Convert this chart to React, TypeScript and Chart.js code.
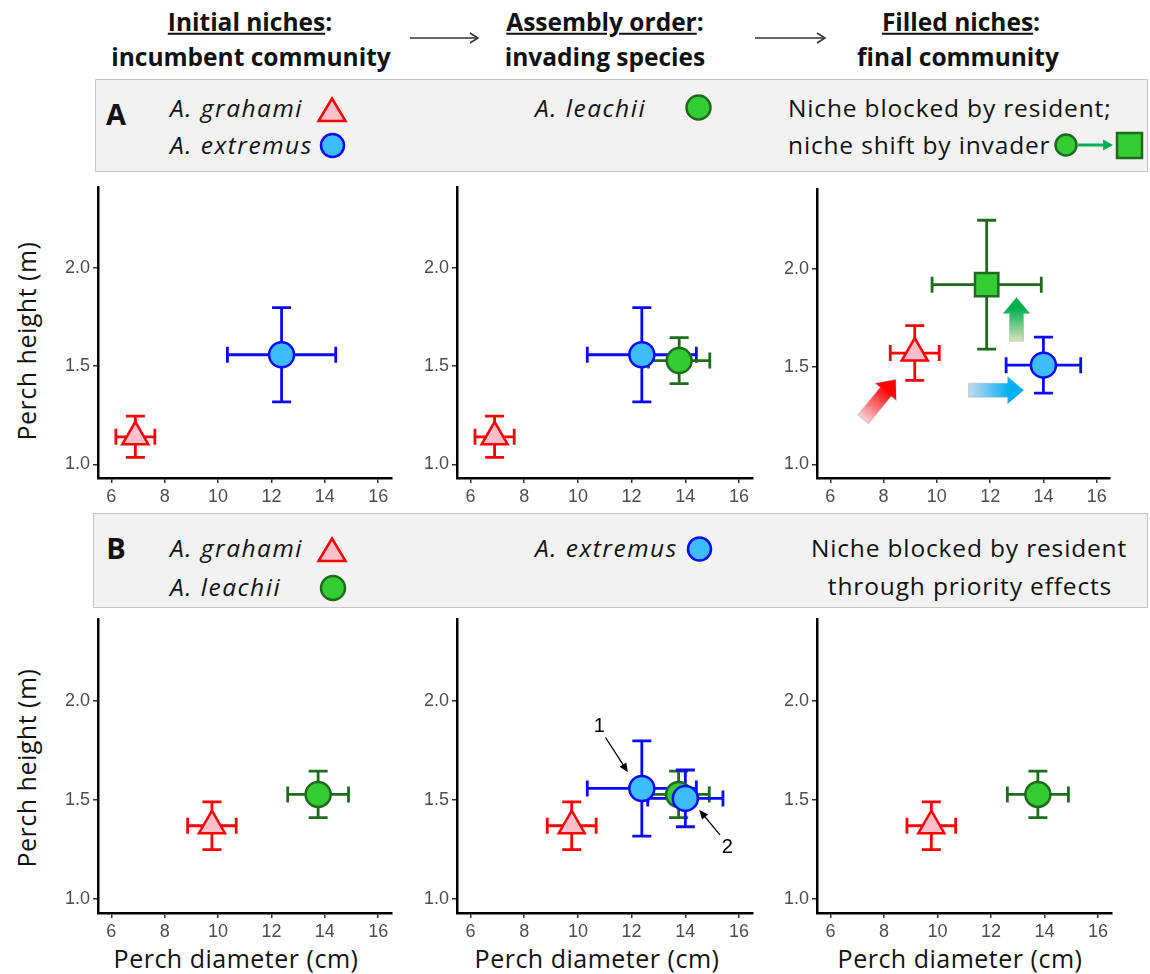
import React, { useEffect, useRef } from "react";
import { Chart, registerables } from "chart.js";

Chart.register(...registerables);

// ---------- axes shared by all six panels ----------
const X_TICKS = [6, 8, 10, 12, 14, 16];
const Y_TICKS = [1.0, 1.5, 2.0];
const Y_TICK_LABELS = ["1.0", "1.5", "2.0"];
const X_LIMITS = [5.5, 16.5];
const Y_LIMITS = [0.93, 2.41];

// ---------- series: [mean perch diameter (cm), mean perch height (m), diameter error, height error] ----------
const GRAHAMI_A_INITIAL = [6.9, 1.14, 0.73, 0.105];
const EXTREMUS_A_INITIAL = [12.38, 1.558, 2.03, 0.24];
const LEACHII_INVADER = [13.77, 1.528, 1.14, 0.117];
const GRAHAMI_A_FINAL = [9.17, 1.57, 0.92, 0.14];
const LEACHII_A_FINAL = [11.87, 1.92, 2.05, 0.33];
const EXTREMUS_A_FINAL = [14.0, 1.508, 1.4, 0.143];
const GRAHAMI_B = [9.77, 1.37, 0.91, 0.12];
const LEACHII_B = [13.75, 1.528, 1.14, 0.117];
const EXTREMUS_B_ARRIVAL_1 = [12.38, 1.558, 2.03, 0.24];
const EXTREMUS_B_ARRIVAL_2 = [14.0, 1.508, 1.4, 0.143];

// ---------- annotations (data units) ----------
const SHIFT_ARROWS = [
  { from: [7.23, 1.23], to: [8.46, 1.435], c0: "#f6d0d5", c1: "#ff0000" },
  { from: [11.19, 1.38], to: [13.26, 1.38], c0: "#c6d9f1", c1: "#00b0f0" },
  { from: [12.99, 1.63], to: [12.99, 1.855], c0: "#d7e4bd", c1: "#00b050" },
];
const ARRIVAL_LABELS = [
  { text: "1", at: [10.8, 1.87], from: [11.03, 1.815], to: [11.86, 1.64] },
  { text: "2", at: [15.56, 1.262], from: [15.29, 1.324], to: [14.52, 1.449] },
];

const STYLE: Record<string, any> = {
  grahami: { shape: "triangle", radius: 15, fill: "#ffc0cb", stroke: "#ff0000", err: "#ff0000" },
  extremus: { shape: "circle", radius: 12.5, fill: "#3dbdfd", stroke: "#0a0aff", err: "#0a0aff" },
  leachii: { shape: "circle", radius: 12.5, fill: "#33cc33", stroke: "#1e6b1e", err: "#1e6b1e" },
  leachiiShift: { shape: "rect", radius: 16.5, fill: "#33cc33", stroke: "#1e6b1e", err: "#1e6b1e" },
};

const PANELS = [
  { id: "A1", left: 98, top: 182, right: 395, bottom: 478,
    series: [{ kind: "grahami", values: GRAHAMI_A_INITIAL }, { kind: "extremus", values: EXTREMUS_A_INITIAL }] },
  { id: "A2", left: 457, top: 182, right: 756, bottom: 478,
    series: [{ kind: "grahami", values: GRAHAMI_A_INITIAL }, { kind: "extremus", values: EXTREMUS_A_INITIAL }, { kind: "leachii", values: LEACHII_INVADER }] },
  { id: "A3", left: 817, top: 182, right: 1115, bottom: 478, arrows: SHIFT_ARROWS,
    series: [{ kind: "grahami", values: GRAHAMI_A_FINAL }, { kind: "leachiiShift", values: LEACHII_A_FINAL }, { kind: "extremus", values: EXTREMUS_A_FINAL }] },
  { id: "B1", left: 98, top: 614, right: 395, bottom: 913,
    series: [{ kind: "grahami", values: GRAHAMI_B }, { kind: "leachii", values: LEACHII_B }] },
  { id: "B2", left: 457, top: 614, right: 756, bottom: 913, labels: ARRIVAL_LABELS,
    series: [{ kind: "grahami", values: GRAHAMI_B }, { kind: "extremus", values: EXTREMUS_B_ARRIVAL_1 }, { kind: "leachii", values: LEACHII_B }, { kind: "extremus", values: EXTREMUS_B_ARRIVAL_2 }] },
  { id: "B3", left: 817, top: 614, right: 1115, bottom: 913,
    series: [{ kind: "grahami", values: GRAHAMI_B }, { kind: "leachii", values: LEACHII_B }] },
];

const AX_W = 62;
const AX_H = 36;
const PAD_T = 12;
const PAD_R = 14;
const FONT = "'Open Sans', sans-serif";
const TICK_FONT = "'Liberation Sans', Arial, sans-serif";

const errorBarPlugin = {
  id: "errorBars",
  beforeDatasetsDraw(chart: any) {
    const { ctx } = chart;
    const xs = chart.scales.x;
    const ys = chart.scales.y;
    ctx.save();
    chart.data.datasets.forEach((ds: any) => {
      const [mx, my, ex, ey] = ds.stats;
      const cx = xs.getPixelForValue(mx);
      const cy = ys.getPixelForValue(my);
      const l = xs.getPixelForValue(mx - ex);
      const r = xs.getPixelForValue(mx + ex);
      const t = ys.getPixelForValue(my + ey);
      const b = ys.getPixelForValue(my - ey);
      ctx.strokeStyle = ds.errorColor;
      ctx.lineWidth = 2.8;
      ctx.beginPath();
      ctx.moveTo(l, cy); ctx.lineTo(r, cy);
      ctx.moveTo(l, cy - 8); ctx.lineTo(l, cy + 8);
      ctx.moveTo(r, cy - 8); ctx.lineTo(r, cy + 8);
      ctx.moveTo(cx, t); ctx.lineTo(cx, b);
      ctx.moveTo(cx - 9.5, t); ctx.lineTo(cx + 9.5, t);
      ctx.moveTo(cx - 9.5, b); ctx.lineTo(cx + 9.5, b);
      ctx.stroke();
    });
    ctx.restore();
  },
};

function makeNotesPlugin(panel: any) {
  return {
    id: "notes",
    afterDatasetsDraw(chart: any) {
      const { ctx } = chart;
      const xs = chart.scales.x;
      const ys = chart.scales.y;
      const px = (p: number[]) => [xs.getPixelForValue(p[0]), ys.getPixelForValue(p[1])];
      ctx.save();
      (panel.arrows || []).forEach((a: any) => {
        const [x0, y0] = px(a.from);
        const [x1, y1] = px(a.to);
        const len = Math.hypot(x1 - x0, y1 - y0);
        const ang = Math.atan2(y1 - y0, x1 - x0);
        const sh = 7, hh = 13.5, hl = 16;
        ctx.save();
        ctx.translate(x0, y0);
        ctx.rotate(ang);
        const g = ctx.createLinearGradient(0, 0, len, 0);
        g.addColorStop(0, a.c0);
        g.addColorStop(0.75, a.c1);
        g.addColorStop(1, a.c1);
        ctx.beginPath();
        ctx.moveTo(0, -sh);
        ctx.lineTo(len - hl, -sh);
        ctx.lineTo(len - hl, -hh);
        ctx.lineTo(len, 0);
        ctx.lineTo(len - hl, hh);
        ctx.lineTo(len - hl, sh);
        ctx.lineTo(0, sh);
        ctx.closePath();
        ctx.fillStyle = g;
        ctx.fill();
        ctx.strokeStyle = "rgba(150,150,150,0.35)";
        ctx.lineWidth = 1;
        ctx.stroke();
        ctx.restore();
      });
      (panel.labels || []).forEach((lab: any) => {
        const [x0, y0] = px(lab.from);
        const [x1, y1] = px(lab.to);
        const ang = Math.atan2(y1 - y0, x1 - x0);
        ctx.strokeStyle = "#000";
        ctx.fillStyle = "#000";
        ctx.lineWidth = 1.3;
        ctx.beginPath();
        ctx.moveTo(x0, y0);
        ctx.lineTo(x1 - Math.cos(ang) * 6, y1 - Math.sin(ang) * 6);
        ctx.stroke();
        ctx.save();
        ctx.translate(x1, y1);
        ctx.rotate(ang);
        ctx.beginPath();
        ctx.moveTo(0, 0);
        ctx.lineTo(-9, -4);
        ctx.lineTo(-9, 4);
        ctx.closePath();
        ctx.fill();
        ctx.restore();
        const [tx, ty] = px(lab.at);
        ctx.font = "20px " + TICK_FONT;
        ctx.textAlign = "center";
        ctx.textBaseline = "middle";
        ctx.fillText(lab.text, tx, ty);
      });
      ctx.restore();
    },
  };
}

function Panel({ panel }: { panel: any }) {
  const ref = useRef<HTMLCanvasElement | null>(null);
  const w = panel.right - panel.left + AX_W + PAD_R;
  const h = panel.bottom - panel.top + PAD_T + AX_H;
  useEffect(() => {
    if (!ref.current) return;
    const tickStyle = { color: "#4d4d4d", font: { family: TICK_FONT, size: 18 } };
    const chart = new Chart(ref.current, {
      type: "scatter",
      data: {
        datasets: panel.series.map((s: any, i: number) => {
          const st = STYLE[s.kind];
          return {
            data: [{ x: s.values[0], y: s.values[1] }],
            stats: s.values,
            errorColor: st.err,
            pointStyle: st.shape,
            pointRadius: st.radius,
            pointHoverRadius: st.radius,
            pointBackgroundColor: st.fill,
            pointBorderColor: st.stroke,
            pointBorderWidth: 2.5,
            order: -i,
            clip: false,
          } as any;
        }),
      },
      options: {
        responsive: false,
        animation: false,
        events: [],
        layout: { padding: { top: PAD_T, right: PAD_R, left: 0, bottom: 0 } },
        plugins: { legend: { display: false }, tooltip: { enabled: false } },
        scales: {
          x: {
            type: "linear",
            min: X_LIMITS[0],
            max: X_LIMITS[1],
            afterBuildTicks: (s: any) => { s.ticks = X_TICKS.map((v) => ({ value: v })); },
            afterFit: (s: any) => { s.height = AX_H; },
            ticks: { ...tickStyle, padding: 3, autoSkip: false, maxRotation: 0, callback: (v: any) => String(v) },
            grid: { drawOnChartArea: false, drawTicks: true, tickLength: 5, color: "#333", lineWidth: 1.5 },
            border: { display: true, color: "#000", width: 2.5 },
          },
          y: {
            type: "linear",
            min: Y_LIMITS[0],
            max: Y_LIMITS[1],
            afterBuildTicks: (s: any) => { s.ticks = Y_TICKS.map((v) => ({ value: v })); },
            afterFit: (s: any) => { s.width = AX_W; },
            ticks: { ...tickStyle, padding: 3, autoSkip: false, callback: (_v: any, i: number) => Y_TICK_LABELS[i] },
            grid: { drawOnChartArea: false, drawTicks: true, tickLength: 5, color: "#333", lineWidth: 1.5 },
            border: { display: true, color: "#000", width: 2.5 },
          },
        },
      } as any,
      plugins: [errorBarPlugin, makeNotesPlugin(panel)],
    });
    return () => chart.destroy();
  }, []);
  return (
    <canvas
      ref={ref}
      width={w}
      height={h}
      style={{ position: "absolute", left: panel.left - AX_W, top: panel.top - PAD_T, width: w, height: h }}
    />
  );
}

function Label({ x, y, align = "center", style, children }: any) {
  const tx = align === "center" ? "-50%" : align === "left" ? "0" : "-100%";
  return (
    <div
      style={{
        position: "absolute",
        left: x,
        top: y,
        transform: `translate(${tx}, -50%)`,
        whiteSpace: "nowrap",
        lineHeight: 1,
        ...style,
      }}
    >
      {children}
    </div>
  );
}

const headStyle = { fontWeight: 700, fontSize: 24.5 };
const boxText = { fontSize: 24.5, letterSpacing: 0.85 };
const italic = { fontSize: 24.5, fontStyle: "italic", letterSpacing: 1.5 };
const axisTitle = { fontSize: 25, letterSpacing: 0.5 };

function Tri({ cx, cy }: any) {
  return <polygon points={`${cx},${cy - 11.5} ${cx + 13.5},${cy + 11} ${cx - 13.5},${cy + 11}`} fill="#ffc0cb" stroke="#ff0000" strokeWidth={2.5} />;
}
function Dot({ cx, cy, r = 11.5, fill, stroke }: any) {
  return <circle cx={cx} cy={cy} r={r} fill={fill} stroke={stroke} strokeWidth={2.5} />;
}

export default function App() {
  useEffect(() => {
    document.body.style.margin = "0";
  }, []);
  return (
    <div style={{ position: "absolute", left: 0, top: 0, width: 1150, height: 974, background: "#fff", fontFamily: FONT, color: "#111", overflow: "hidden" }}>
      {/* grey boxes */}
      <div style={{ position: "absolute", left: 95, top: 79, width: 1053, height: 93, background: "#f2f2f2", border: "1.5px solid #c4c4c4", boxSizing: "border-box" }} />
      <div style={{ position: "absolute", left: 93, top: 513, width: 1055, height: 95, background: "#f2f2f2", border: "1.5px solid #c4c4c4", boxSizing: "border-box" }} />

      {/* column headers */}
      <Label x={250} y={22} style={headStyle}><span style={{ textDecoration: "underline" }}>Initial niches</span>:</Label>
      <Label x={251} y={57} style={headStyle}>incumbent community</Label>
      <Label x={605} y={22} style={headStyle}><span style={{ textDecoration: "underline" }}>Assembly order</span>:</Label>
      <Label x={605} y={57} style={headStyle}>invading species</Label>
      <Label x={961} y={22} style={headStyle}><span style={{ textDecoration: "underline" }}>Filled niches</span>:</Label>
      <Label x={958} y={57} style={headStyle}>final community</Label>

      {/* box A */}
      <Label x={116} y={113} style={{ fontWeight: 700, fontSize: 29 }}>A</Label>
      <Label x={170} y={108} align="left" style={italic}>A. grahami</Label>
      <Label x={170} y={145} align="left" style={italic}>A. extremus</Label>
      <Label x={535} y={108} align="left" style={italic}>A. leachii</Label>
      <Label x={788} y={108} align="left" style={boxText}>Niche blocked by resident;</Label>
      <Label x={788} y={145} align="left" style={boxText}>niche shift by invader</Label>

      {/* box B */}
      <Label x={116} y={547} style={{ fontWeight: 700, fontSize: 29 }}>B</Label>
      <Label x={170} y={548} align="left" style={italic}>A. grahami</Label>
      <Label x={170} y={587} align="left" style={italic}>A. leachii</Label>
      <Label x={535} y={548} align="left" style={italic}>A. extremus</Label>
      <Label x={969} y={548} style={boxText}>Niche blocked by resident</Label>
      <Label x={970} y={586} style={boxText}>through priority effects</Label>

      {/* axis titles */}
      <Label x={26} y={341} style={{ ...axisTitle, transform: "translate(-50%, -50%) rotate(-90deg)" }}>Perch height (m)</Label>
      <Label x={26} y={768} style={{ ...axisTitle, transform: "translate(-50%, -50%) rotate(-90deg)" }}>Perch height (m)</Label>
      <Label x={236} y={958} style={axisTitle}>Perch diameter (cm)</Label>
      <Label x={597} y={958} style={axisTitle}>Perch diameter (cm)</Label>
      <Label x={960} y={958} style={axisTitle}>Perch diameter (cm)</Label>

      {/* decorations: header arrows and legend keys */}
      <svg width={1150} height={974} style={{ position: "absolute", left: 0, top: 0, pointerEvents: "none" }}>
        <g stroke="#333" strokeWidth={1.5} fill="none">
          <line x1={410} y1={38} x2={478} y2={38} />
          <polyline points="470,33 478,38 470,43" />
          <line x1={755} y1={38} x2={825} y2={38} />
          <polyline points="817,33 825,38 817,43" />
        </g>
        <Tri cx={332} cy={110} />
        <Dot cx={332.5} cy={145.5} fill="#3dbdfd" stroke="#0a0aff" />
        <Dot cx={698.5} cy={107.5} r={12} fill="#33cc33" stroke="#1e6b1e" />
        <Dot cx={1066} cy={145} r={10.5} fill="#33cc33" stroke="#1e6b1e" />
        <line x1={1078} y1={145} x2={1104} y2={145} stroke="#00b050" strokeWidth={3} />
        <polygon points="1113,145 1103,139.5 1103,150.5" fill="#00b050" />
        <rect x={1117} y={133} width={25} height={25} fill="#33cc33" stroke="#1e6b1e" strokeWidth={2.5} />

        <Tri cx={332} cy={550} />
        <Dot cx={333} cy={588} r={12} fill="#33cc33" stroke="#1e6b1e" />
        <Dot cx={699.5} cy={549} r={11.5} fill="#3dbdfd" stroke="#0a0aff" />
      </svg>

      {PANELS.map((p) => (
        <Panel key={p.id} panel={p} />
      ))}
    </div>
  );
}
